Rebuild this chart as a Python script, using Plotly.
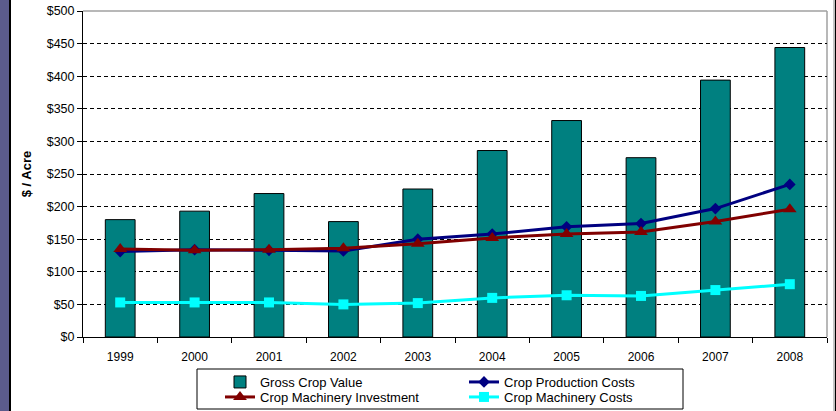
import plotly.graph_objects as go

years = ["1999", "2000", "2001", "2002", "2003", "2004", "2005", "2006", "2007", "2008"]
gross_crop_value = [180, 193, 220, 177, 227, 286, 332, 275, 394, 444]
crop_production_costs = [131, 134, 133, 132, 150, 158, 169, 174, 197, 234]
crop_machinery_investment = [135, 133, 134, 136, 143, 152, 158, 161, 177, 196]
crop_machinery_costs = [53, 53, 53, 50, 52, 60, 64, 63, 72, 81]
y_tick_values = [0, 50, 100, 150, 200, 250, 300, 350, 400, 450, 500]
y_tick_labels = ["$" + str(v) for v in y_tick_values]

W, H = 836, 411
ML, MR, MT, MB = 83, 9, 11, 74
PW, PH = W - ML - MR, H - MT - MB


def px_x(px):
    return (px - ML) / PW


def px_y(py):
    return (H - MB - py) / PH


FONT = "Liberation Sans, Arial, sans-serif"

fig = go.Figure()
fig.add_trace(go.Bar(
    x=years, y=gross_crop_value, name="Gross Crop Value",
    marker=dict(color="#008080", line=dict(color="#000000", width=1)),
    width=0.4, legend="legend",
))
fig.add_trace(go.Scatter(
    x=years, y=crop_production_costs, name="Crop Production Costs",
    mode="lines+markers", line=dict(color="#000080", width=3),
    marker=dict(symbol="diamond", size=9, color="#000080"), legend="legend",
))
fig.add_trace(go.Scatter(
    x=years, y=crop_machinery_investment, name="Crop Machinery Investment",
    mode="lines+markers", line=dict(color="#800000", width=3),
    marker=dict(symbol="triangle-up", size=12, color="#800000"), legend="legend2",
))
fig.add_trace(go.Scatter(
    x=years, y=crop_machinery_costs, name="Crop Machinery Costs",
    mode="lines+markers", line=dict(color="#00FFFF", width=3),
    marker=dict(symbol="square", size=10, color="#00FFFF"), legend="legend2",
))

legend_common = dict(
    orientation="h", xanchor="left", yanchor="middle",
    x=px_x(220), entrywidth=199, entrywidthmode="pixels",
    font=dict(family=FONT, size=13, color="#000000"),
    bgcolor="rgba(0,0,0,0)", borderwidth=0, itemclick=False,
    tracegroupgap=0,
)

shapes = [
    # purple strip at left
    dict(type="rect", xref="paper", yref="paper", x0=px_x(0), x1=px_x(9),
         y0=px_y(H), y1=px_y(0), fillcolor="#5B5B8C", line=dict(width=0), layer="below"),
    dict(type="line", xref="paper", yref="paper", x0=px_x(10), x1=px_x(10),
         y0=px_y(H), y1=px_y(0), line=dict(color="#000000", width=2)),
    # right frame
    dict(type="line", xref="paper", yref="paper", x0=px_x(833.5), x1=px_x(833.5),
         y0=px_y(H), y1=px_y(0), line=dict(color="#C8C8C8", width=1)),
    dict(type="line", xref="paper", yref="paper", x0=px_x(835.5), x1=px_x(835.5),
         y0=px_y(H), y1=px_y(0), line=dict(color="#000000", width=1.5)),
    # plot border top / right (gray)
    dict(type="line", xref="paper", yref="paper", x0=0, x1=1, y0=1, y1=1,
         line=dict(color="#A0A0A0", width=1.5), layer="below"),
    dict(type="line", xref="paper", yref="paper", x0=1, x1=1, y0=0, y1=1,
         line=dict(color="#A0A0A0", width=1.5), layer="below"),
    # legend box
    dict(type="rect", xref="paper", yref="paper", x0=px_x(197), x1=px_x(683),
         y0=px_y(409), y1=px_y(369), line=dict(color="#000000", width=1),
         fillcolor="rgba(0,0,0,0)"),
]

fig.update_layout(
    width=W, height=H,
    margin=dict(l=ML, r=MR, t=MT, b=MB, autoexpand=False),
    paper_bgcolor="#FFFFFF", plot_bgcolor="#FFFFFF",
    font=dict(family=FONT, color="#000000"),
    barmode="overlay",
    showlegend=True,
    legend=dict(y=px_y(382), **legend_common),
    legend2=dict(y=px_y(397), **legend_common),
    shapes=shapes,
    xaxis=dict(
        type="category", range=[-0.5, 9.5], tickson="boundaries",
        ticks="outside", ticklen=5, tickcolor="#000000", tickwidth=1,
        showline=True, linecolor="#000000", linewidth=1,
        showgrid=False, zeroline=False, ticklabelstandoff=9,
        tickfont=dict(family=FONT, size=12, color="#000000"),
        fixedrange=True,
    ),
    yaxis=dict(
        range=[0, 500], tickmode="array", tickvals=y_tick_values, ticktext=y_tick_labels,
        ticks="outside", ticklen=5, tickcolor="#000000", tickwidth=1,
        showline=True, linecolor="#000000", linewidth=1,
        showgrid=True, gridcolor="#000000", gridwidth=1, griddash="4px,3px",
        zeroline=False,
        tickfont=dict(family=FONT, size=12.5, color="#000000"),
        title=dict(text="<b>$ / Acre</b>", standoff=12,
                   font=dict(family=FONT, size=13, color="#000000")),
        fixedrange=True,
    ),
)

fig.write_html(
    "out.html",
    config={"displayModeBar": False},
    post_script="document.body.style.margin='0px';document.body.style.padding='0px';",
)
